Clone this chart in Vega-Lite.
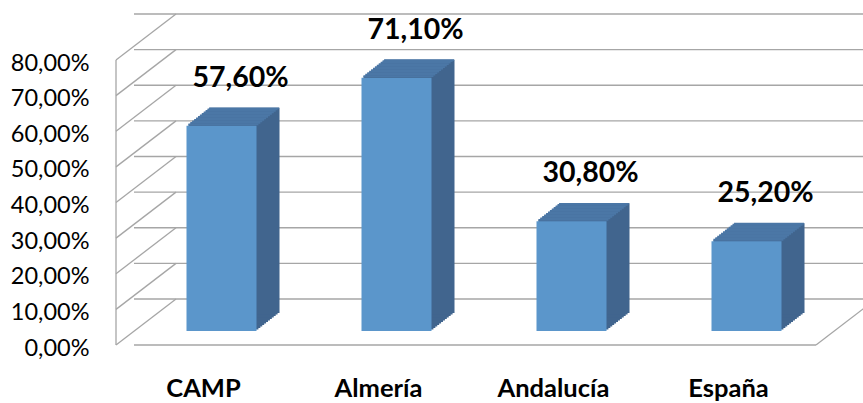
{
  "$schema": "https://vega.github.io/schema/vega-lite/v6.json",
  "autosize": "none",
  "width": 700,
  "height": 285,
  "padding": {"left": 134, "top": 46, "right": 29, "bottom": 72},
  "background": "#ffffff",
  "config": {
    "locale": {"number": {"decimal": ",", "thousands": ".", "grouping": [3], "currency": ["", " €"]}},
    "numberFormat": ".2%",
    "view": {"stroke": null},
    "font": "Lato",
    "axisY": {"domain": false, "ticks": false, "tickSize": 0, "grid": false, "tickCount": 8, "labelFont": "Lato", "labelFontSize": 23.5, "labelColor": "#000000", "labelPadding": 45, "labelOffset": 17, "labelBaseline": "middle", "labelOverlap": false, "labelBound": false, "labelFlush": false},
    "axisX": {"domain": false, "ticks": false, "tickSize": 0, "grid": false, "labelFont": "Lato", "labelFontWeight": "bold", "labelFontSize": 25.5, "labelColor": "#000000", "labelPadding": 65, "labelBaseline": "alphabetic", "labelOffset": -18, "labelAngle": 0}
  },
  "datasets": {
    "bars": [
      {"region": "CAMP", "v": 0.576},
      {"region": "Almería", "v": 0.711},
      {"region": "Andalucía", "v": 0.308},
      {"region": "España", "v": 0.252}
    ],
    "grid": [
      {"v": 0}, {"v": 0.1}, {"v": 0.2}, {"v": 0.3}, {"v": 0.4},
      {"v": 0.5}, {"v": 0.6}, {"v": 0.7}, {"v": 0.8}
    ]
  },
  "layer": [
    {
      "data": {"name": "grid"},
      "mark": {"type": "rule", "color": "#A6A6A6", "strokeWidth": 1.3, "xOffset": 42, "x2Offset": 42, "yOffset": -32},
      "encoding": {"y": {"field": "v", "type": "quantitative", "title": null, "scale": {"domain": [0, 0.8], "nice": false}}}
    },
    {
      "data": {"name": "grid"},
      "mark": {"type": "point", "shape": "M-18,14L42,-32", "size": 4, "filled": false, "stroke": "#A6A6A6", "strokeWidth": 1.3, "opacity": 1},
      "encoding": {"x": {"value": 0}, "y": {"field": "v", "type": "quantitative", "title": null}}
    },
    {
      "data": {"name": "grid"},
      "transform": [{"filter": "datum.v == 0"}],
      "mark": {"type": "point", "shape": "M-18,14L42,-32", "size": 4, "filled": false, "stroke": "#A6A6A6", "strokeWidth": 1.3, "opacity": 1},
      "encoding": {"x": {"value": {"expr": "width"}}, "y": {"field": "v", "type": "quantitative", "title": null}}
    },
    {
      "data": {"name": "grid"},
      "transform": [{"filter": "datum.v == 0"}],
      "mark": {"type": "rule", "color": "#A6A6A6", "strokeWidth": 1.3, "xOffset": -18, "x2Offset": -18, "yOffset": 14},
      "encoding": {"y": {"field": "v", "type": "quantitative", "title": null}}
    },
    {
      "data": {"name": "grid"},
      "transform": [{"filter": "datum.v == 0"}],
      "mark": {"type": "rule", "color": "#A6A6A6", "strokeWidth": 1.3, "xOffset": -18, "yOffset": 14, "y2Offset": 14},
      "encoding": {"x": {"value": 0}, "y": {"datum": 0, "type": "quantitative", "title": null}, "y2": {"datum": 0.8}}
    },
    {"data": {"name": "bars"}, "mark": {"type": "bar", "color": "#41658E", "xOffset": 1.92, "yOffset": -1.5, "y2Offset": -1.5}, "encoding": {"x": {"field": "region", "type": "nominal", "sort": null, "title": null, "scale": {"paddingInner": 0.6, "paddingOuter": 0.3}}, "y": {"field": "v", "type": "quantitative", "title": null}}},
    {"data": {"name": "bars"}, "mark": {"type": "bar", "color": "#41658E", "xOffset": 3.83, "yOffset": -3, "y2Offset": -3}, "encoding": {"x": {"field": "region", "type": "nominal", "sort": null, "title": null}, "y": {"field": "v", "type": "quantitative", "title": null}}},
    {"data": {"name": "bars"}, "mark": {"type": "bar", "color": "#41658E", "xOffset": 5.75, "yOffset": -4.5, "y2Offset": -4.5}, "encoding": {"x": {"field": "region", "type": "nominal", "sort": null, "title": null}, "y": {"field": "v", "type": "quantitative", "title": null}}},
    {"data": {"name": "bars"}, "mark": {"type": "bar", "color": "#41658E", "xOffset": 7.67, "yOffset": -6, "y2Offset": -6}, "encoding": {"x": {"field": "region", "type": "nominal", "sort": null, "title": null}, "y": {"field": "v", "type": "quantitative", "title": null}}},
    {"data": {"name": "bars"}, "mark": {"type": "bar", "color": "#41658E", "xOffset": 9.58, "yOffset": -7.5, "y2Offset": -7.5}, "encoding": {"x": {"field": "region", "type": "nominal", "sort": null, "title": null}, "y": {"field": "v", "type": "quantitative", "title": null}}},
    {"data": {"name": "bars"}, "mark": {"type": "bar", "color": "#41658E", "xOffset": 11.5, "yOffset": -9, "y2Offset": -9}, "encoding": {"x": {"field": "region", "type": "nominal", "sort": null, "title": null}, "y": {"field": "v", "type": "quantitative", "title": null}}},
    {"data": {"name": "bars"}, "mark": {"type": "bar", "color": "#41658E", "xOffset": 13.42, "yOffset": -10.5, "y2Offset": -10.5}, "encoding": {"x": {"field": "region", "type": "nominal", "sort": null, "title": null}, "y": {"field": "v", "type": "quantitative", "title": null}}},
    {"data": {"name": "bars"}, "mark": {"type": "bar", "color": "#41658E", "xOffset": 15.33, "yOffset": -12, "y2Offset": -12}, "encoding": {"x": {"field": "region", "type": "nominal", "sort": null, "title": null}, "y": {"field": "v", "type": "quantitative", "title": null}}},
    {"data": {"name": "bars"}, "mark": {"type": "bar", "color": "#41658E", "xOffset": 17.25, "yOffset": -13.5, "y2Offset": -13.5}, "encoding": {"x": {"field": "region", "type": "nominal", "sort": null, "title": null}, "y": {"field": "v", "type": "quantitative", "title": null}}},
    {"data": {"name": "bars"}, "mark": {"type": "bar", "color": "#41658E", "xOffset": 19.17, "yOffset": -15, "y2Offset": -15}, "encoding": {"x": {"field": "region", "type": "nominal", "sort": null, "title": null}, "y": {"field": "v", "type": "quantitative", "title": null}}},
    {"data": {"name": "bars"}, "mark": {"type": "bar", "color": "#41658E", "xOffset": 21.08, "yOffset": -16.5, "y2Offset": -16.5}, "encoding": {"x": {"field": "region", "type": "nominal", "sort": null, "title": null}, "y": {"field": "v", "type": "quantitative", "title": null}}},
    {"data": {"name": "bars"}, "mark": {"type": "bar", "color": "#41658E", "xOffset": 23, "yOffset": -18, "y2Offset": -18}, "encoding": {"x": {"field": "region", "type": "nominal", "sort": null, "title": null}, "y": {"field": "v", "type": "quantitative", "title": null}}},
    {"data": {"name": "bars"}, "mark": {"type": "tick", "orient": "horizontal", "color": "#4B77A6", "opacity": 1, "size": 70, "thickness": 1.8, "xOffset": 1.92, "yOffset": -1.5}, "encoding": {"x": {"field": "region", "type": "nominal", "sort": null, "title": null}, "y": {"field": "v", "type": "quantitative", "title": null}}},
    {"data": {"name": "bars"}, "mark": {"type": "tick", "orient": "horizontal", "color": "#4B77A6", "opacity": 1, "size": 70, "thickness": 1.8, "xOffset": 3.83, "yOffset": -3}, "encoding": {"x": {"field": "region", "type": "nominal", "sort": null, "title": null}, "y": {"field": "v", "type": "quantitative", "title": null}}},
    {"data": {"name": "bars"}, "mark": {"type": "tick", "orient": "horizontal", "color": "#4B77A6", "opacity": 1, "size": 70, "thickness": 1.8, "xOffset": 5.75, "yOffset": -4.5}, "encoding": {"x": {"field": "region", "type": "nominal", "sort": null, "title": null}, "y": {"field": "v", "type": "quantitative", "title": null}}},
    {"data": {"name": "bars"}, "mark": {"type": "tick", "orient": "horizontal", "color": "#4B77A6", "opacity": 1, "size": 70, "thickness": 1.8, "xOffset": 7.67, "yOffset": -6}, "encoding": {"x": {"field": "region", "type": "nominal", "sort": null, "title": null}, "y": {"field": "v", "type": "quantitative", "title": null}}},
    {"data": {"name": "bars"}, "mark": {"type": "tick", "orient": "horizontal", "color": "#4B77A6", "opacity": 1, "size": 70, "thickness": 1.8, "xOffset": 9.58, "yOffset": -7.5}, "encoding": {"x": {"field": "region", "type": "nominal", "sort": null, "title": null}, "y": {"field": "v", "type": "quantitative", "title": null}}},
    {"data": {"name": "bars"}, "mark": {"type": "tick", "orient": "horizontal", "color": "#4B77A6", "opacity": 1, "size": 70, "thickness": 1.8, "xOffset": 11.5, "yOffset": -9}, "encoding": {"x": {"field": "region", "type": "nominal", "sort": null, "title": null}, "y": {"field": "v", "type": "quantitative", "title": null}}},
    {"data": {"name": "bars"}, "mark": {"type": "tick", "orient": "horizontal", "color": "#4B77A6", "opacity": 1, "size": 70, "thickness": 1.8, "xOffset": 13.42, "yOffset": -10.5}, "encoding": {"x": {"field": "region", "type": "nominal", "sort": null, "title": null}, "y": {"field": "v", "type": "quantitative", "title": null}}},
    {"data": {"name": "bars"}, "mark": {"type": "tick", "orient": "horizontal", "color": "#4B77A6", "opacity": 1, "size": 70, "thickness": 1.8, "xOffset": 15.33, "yOffset": -12}, "encoding": {"x": {"field": "region", "type": "nominal", "sort": null, "title": null}, "y": {"field": "v", "type": "quantitative", "title": null}}},
    {"data": {"name": "bars"}, "mark": {"type": "tick", "orient": "horizontal", "color": "#4B77A6", "opacity": 1, "size": 70, "thickness": 1.8, "xOffset": 17.25, "yOffset": -13.5}, "encoding": {"x": {"field": "region", "type": "nominal", "sort": null, "title": null}, "y": {"field": "v", "type": "quantitative", "title": null}}},
    {"data": {"name": "bars"}, "mark": {"type": "tick", "orient": "horizontal", "color": "#4B77A6", "opacity": 1, "size": 70, "thickness": 1.8, "xOffset": 19.17, "yOffset": -15}, "encoding": {"x": {"field": "region", "type": "nominal", "sort": null, "title": null}, "y": {"field": "v", "type": "quantitative", "title": null}}},
    {"data": {"name": "bars"}, "mark": {"type": "tick", "orient": "horizontal", "color": "#4B77A6", "opacity": 1, "size": 70, "thickness": 1.8, "xOffset": 21.08, "yOffset": -16.5}, "encoding": {"x": {"field": "region", "type": "nominal", "sort": null, "title": null}, "y": {"field": "v", "type": "quantitative", "title": null}}},
    {"data": {"name": "bars"}, "mark": {"type": "tick", "orient": "horizontal", "color": "#4B77A6", "opacity": 1, "size": 70, "thickness": 1.6, "xOffset": 22.6, "yOffset": -17.6}, "encoding": {"x": {"field": "region", "type": "nominal", "sort": null, "title": null}, "y": {"field": "v", "type": "quantitative", "title": null}}},
    {
      "data": {"name": "bars"},
      "mark": {"type": "bar", "color": "#5B96CB"},
      "encoding": {
        "x": {"field": "region", "type": "nominal", "sort": null, "title": null},
        "y": {"field": "v", "type": "quantitative", "title": null}
      }
    },
    {
      "data": {"name": "bars"},
      "mark": {"type": "text", "font": "Lato", "fontWeight": "bold", "fontSize": 28.5, "dx": 19, "dy": -48, "baseline": "middle", "color": "#000000"},
      "encoding": {
        "x": {"field": "region", "type": "nominal", "sort": null, "title": null},
        "y": {"field": "v", "type": "quantitative", "title": null},
        "text": {"field": "v", "type": "quantitative", "format": ".2%"}
      }
    }
  ]
}
